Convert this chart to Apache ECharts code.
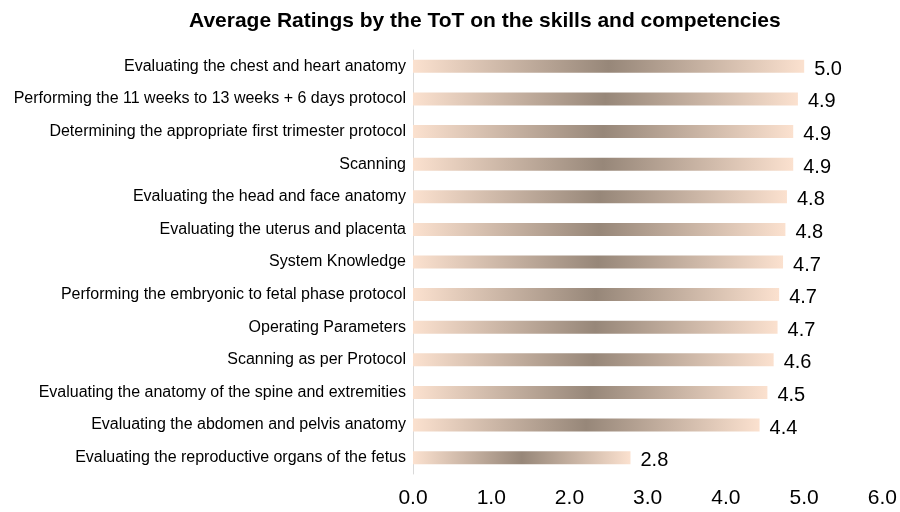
<!DOCTYPE html>
<html>
<head>
<meta charset="utf-8">
<script src="https://cdn.jsdelivr.net/npm/echarts@6/dist/echarts.min.js"></script>
<style>html,body{margin:0;padding:0;background:#fff}#c{width:900px;height:512px}</style>
</head>
<body>
<div id="c"></div>
<script>
const categories = [
  "Evaluating the chest and heart anatomy",
  "Performing the 11 weeks to 13 weeks + 6 days protocol",
  "Determining the appropriate first trimester protocol",
  "Scanning",
  "Evaluating the head and face anatomy",
  "Evaluating the uterus and placenta",
  "System Knowledge",
  "Performing the embryonic to fetal phase protocol",
  "Operating Parameters",
  "Scanning as per Protocol",
  "Evaluating the anatomy of the spine and extremities",
  "Evaluating the abdomen and pelvis anatomy",
  "Evaluating the reproductive organs of the fetus"
];
const ratings = [5.0, 4.92, 4.86, 4.86, 4.78, 4.76, 4.73, 4.68, 4.66, 4.61, 4.53, 4.43, 2.78];
const axisTicks = [0, 1, 2, 3, 4, 5, 6];

const chart = echarts.init(document.getElementById('c'), null, {renderer: 'canvas'});
const grad = new echarts.graphic.LinearGradient(0, 0, 1, 0, [
  {offset: 0, color: '#fbe1cf'},
  {offset: 0.5, color: '#978779'},
  {offset: 1, color: '#fbe1cf'}
]);
chart.setOption({
  animation: false,
  backgroundColor: '#fff',
  title: {
    text: 'Average Ratings by the ToT on the skills and competencies',
    left: 184, top: 6,
    textStyle: {fontFamily: 'Liberation Sans, Arial', fontSize: 21, fontWeight: 'bold', color: '#000'}
  },
  grid: {left: 413, right: 12, top: 50, bottom: 38, containLabel: false},
  xAxis: {
    type: 'value', min: axisTicks[0], max: axisTicks[axisTicks.length - 1], interval: 1,
    axisLine: {show: false}, axisTick: {show: false}, splitLine: {show: false},
    axisLabel: {formatter: v => v.toFixed(1), fontSize: 21, color: '#000', margin: 14,
      fontFamily: 'Liberation Sans, Arial'}
  },
  yAxis: {
    type: 'category', data: categories, inverse: true,
    axisLine: {show: true, lineStyle: {color: '#d9d9d9', width: 1}},
    axisTick: {show: false},
    axisLabel: {fontSize: 16, color: '#000', margin: 7, fontFamily: 'Liberation Sans, Arial'}
  },
  series: [{
    type: 'bar', data: ratings, barWidth: 13,
    itemStyle: {color: grad},
    label: {show: true, position: 'right', distance: 10, offset: [0, 3],
      formatter: p => p.value.toFixed(1), fontSize: 20, color: '#000',
      fontFamily: 'Liberation Sans, Arial'}
  }]
});
</script>
</body>
</html>
